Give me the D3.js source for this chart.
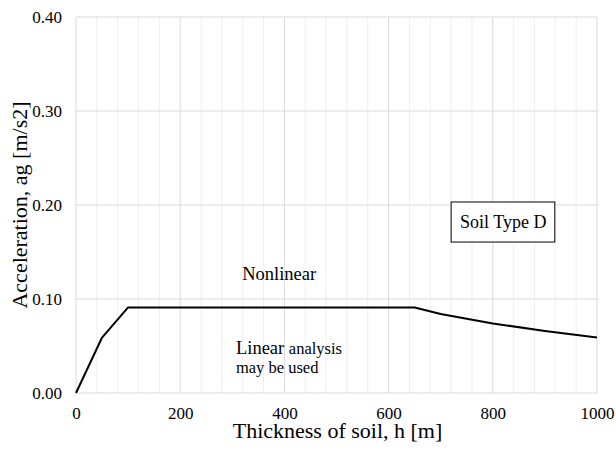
<!DOCTYPE html>
<html>
<head>
<meta charset="utf-8">
<script src="https://cdn.jsdelivr.net/npm/d3@7"></script>
<style>
  body { margin: 0; background: #fff; }
  text { font-family: "Liberation Serif", "Times New Roman", serif; fill: #000; }
</style>
</head>
<body>
<script>
const thickness = [0, 50, 100, 650, 700, 800, 900, 1000];
const accel = [0, 0.059, 0.091, 0.091, 0.084, 0.074, 0.066, 0.059];
const xTicks = [0, 200, 400, 600, 800, 1000];
const yTicks = [0, 0.1, 0.2, 0.3, 0.4];

const W = 616, H = 452;
const margin = {top: 17, right: 19, bottom: 59, left: 76};
const width = W - margin.left - margin.right;
const height = H - margin.top - margin.bottom;

const svg = d3.select("body").append("svg")
    .attr("width", W).attr("height", H);
const g = svg.append("g")
    .attr("transform", `translate(${margin.left},${margin.top})`);

const x = d3.scaleLinear().domain([0, 1000]).range([0, width]);
const y = d3.scaleLinear().domain([0, 0.4]).range([height, 0]);

// minor vertical grid every 40
g.selectAll(".minor")
    .data(d3.range(40, 1000, 40).filter(v => v % 200 !== 0))
    .enter().append("line")
    .attr("x1", d => x(d)).attr("x2", d => x(d))
    .attr("y1", 0).attr("y2", height)
    .attr("stroke", "#efefef").attr("stroke-width", 1);

// major vertical grid
g.selectAll(".vmajor")
    .data(xTicks)
    .enter().append("line")
    .attr("x1", d => x(d)).attr("x2", d => x(d))
    .attr("y1", 0).attr("y2", height)
    .attr("stroke", "#d9d9d9").attr("stroke-width", 1);

// horizontal grid
g.selectAll(".hmajor")
    .data(yTicks)
    .enter().append("line")
    .attr("x1", 0).attr("x2", width)
    .attr("y1", d => y(d)).attr("y2", d => y(d))
    .attr("stroke", "#d9d9d9").attr("stroke-width", 1);

// axes (labels only)
const xAxis = g.append("g")
    .attr("transform", `translate(0,${height})`)
    .call(d3.axisBottom(x).tickValues(xTicks).tickFormat(d3.format("d")).tickSize(0).tickPadding(14));
const yAxis = g.append("g")
    .call(d3.axisLeft(y).tickValues(yTicks).tickFormat(d3.format(".2f")).tickSize(0).tickPadding(14));
[xAxis, yAxis].forEach(a => {
    a.select(".domain").remove();
    a.attr("font-family", null).attr("font-size", null);
    a.selectAll("text")
        .style("font-family", '"Liberation Serif", serif')
        .style("font-size", "17px")
        .attr("fill", "#000");
});

// data line
const line = d3.line()
    .x((d, i) => x(thickness[i]))
    .y(d => y(d));
g.append("path")
    .datum(accel)
    .attr("d", line)
    .attr("fill", "none")
    .attr("stroke", "#000")
    .attr("stroke-width", 2)
    .attr("stroke-linejoin", "round");

// axis titles
svg.append("text")
    .attr("x", 337.5)
    .attr("y", 438)
    .attr("text-anchor", "middle")
    .style("font-size", "22px")
    .text("Thickness of soil, h [m]");
svg.append("text")
    .attr("transform", `translate(27,205) rotate(-90)`)
    .attr("text-anchor", "middle")
    .style("font-size", "22px")
    .text("Acceleration, ag [m/s2]");

// annotations
g.append("text")
    .attr("x", x(390)).attr("y", y(0.1202))
    .attr("text-anchor", "middle")
    .style("font-size", "18.5px")
    .text("Nonlinear");

const lin = g.append("text")
    .attr("x", x(307)).attr("y", y(0.0415));
lin.append("tspan").style("font-size", "18.5px").text("Linear ");
lin.append("tspan").style("font-size", "16.5px").text("analysis");
g.append("text")
    .attr("x", x(307)).attr("y", y(0.0213))
    .style("font-size", "16.5px")
    .text("may be used");

g.append("rect")
    .attr("x", x(720)).attr("y", y(0.2032))
    .attr("width", x(919) - x(720)).attr("height", y(0.1606) - y(0.2032))
    .attr("fill", "#fff").attr("stroke", "#000").attr("stroke-width", 1);
g.append("text")
    .attr("x", x(820)).attr("y", y(0.1755))
    .attr("text-anchor", "middle")
    .style("font-size", "18px")
    .text("Soil Type D");
</script>
</body>
</html>
